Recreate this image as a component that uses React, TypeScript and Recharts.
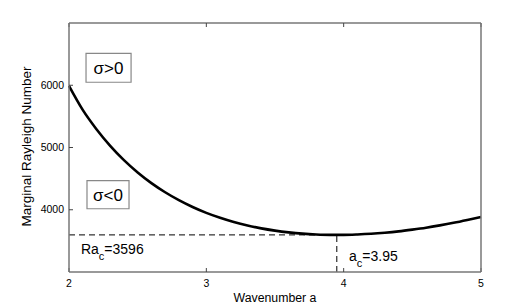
import { LineChart, Line, XAxis, YAxis, ReferenceLine, ReferenceArea, ReferenceDot, Label } from "recharts";

// values
const wavenumber = [2.0, 2.1, 2.2, 2.3, 2.4, 2.5, 2.6, 2.7, 2.8, 2.9, 3.0, 3.1, 3.2, 3.3, 3.4, 3.5, 3.6, 3.7, 3.8, 3.9, 4.0, 4.1, 4.2, 4.3, 4.4, 4.5, 4.6, 4.7, 4.8, 4.9, 5.0];
const rayleigh = [5990, 5604, 5294, 5027, 4797, 4599, 4428, 4281, 4154, 4044, 3950, 3871, 3803, 3747, 3701, 3665, 3637, 3616, 3603, 3597, 3597, 3603, 3614, 3631, 3653, 3681, 3712, 3749, 3790, 3836, 3885];
const xTicks = [2, 3, 4, 5];
const yTicks = [4000, 5000, 6000];
const raCritical = 3596;
const aCritical = 3.95;

const data = wavenumber.map((a, i) => ({ a, ra: rayleigh[i] }));

const FONT = "'Liberation Sans', Arial, Helvetica, sans-serif";
const AXIS = "#777";

const sigmaBox = (txt: string) => ({ viewBox }: any) => (
  <text x={viewBox.x + viewBox.width / 2} y={viewBox.y + viewBox.height / 2 + 6} textAnchor="middle"
    fontSize={17} fontFamily={FONT} fill="#000">{txt}</text>
);

const subLabel = (main: string, rest: string) => ({ viewBox }: any) => (
  <text x={viewBox.x + viewBox.width / 2} y={viewBox.y + viewBox.height / 2} fontSize={14} fontFamily={FONT} fill="#000">
    {main}
    <tspan fontSize={11} dy={6}>c</tspan>
    <tspan dy={-6}>{rest}</tspan>
  </text>
);

export default function App() {
  return (
    <div style={{ position: "absolute", left: 0, top: 0, background: "#fff" }}>
      <LineChart width={531} height={307} data={data} margin={{ top: 0, right: 0, bottom: 0, left: 0 }}
        style={{ fontFamily: FONT }}>
        <XAxis dataKey="a" type="number" domain={[2, 5]} ticks={xTicks} height={35}
          axisLine={{ stroke: AXIS, strokeWidth: 1.5 }} tickLine={{ stroke: "#444" }} tickSize={-4} tickMargin={12}
          tick={{ fill: "#000", fontSize: 10.5 }}>
          <Label content={({ viewBox }: any) => (
            <text x={viewBox.x + viewBox.width / 2} y={viewBox.y + 30} textAnchor="middle" fontSize={12.3} fontFamily={FONT} fill="#000">Wavenumber a</text>
          )} />
        </XAxis>
        <XAxis xAxisId="top" orientation="top" dataKey="a" type="number" domain={[2, 5]} ticks={xTicks} height={23}
          axisLine={{ stroke: AXIS, strokeWidth: 1.5 }} tickLine={{ stroke: "#444" }} tickSize={-4} tickFormatter={() => ""} />
        <YAxis type="number" domain={[3000, 7000]} ticks={yTicks} width={69}
          axisLine={{ stroke: AXIS, strokeWidth: 1.5 }} tickLine={{ stroke: "#444" }} tickSize={-4} tickMargin={9}
          tick={{ fill: "#000", fontSize: 10.5 }}>
          <Label content={({ viewBox }: any) => {
            const cx = 31, cy = viewBox.y + viewBox.height / 2 - 1;
            return (
              <text x={cx} y={cy} transform={`rotate(-90 ${cx} ${cy})`} textAnchor="middle" fontSize={13.5} fontFamily={FONT} fill="#000">
                Marginal Rayleigh Number
              </text>
            );
          }} />
        </YAxis>
        <YAxis yAxisId="right" orientation="right" type="number" domain={[3000, 7000]} ticks={yTicks} width={50}
          axisLine={{ stroke: AXIS, strokeWidth: 1.5 }} tickLine={{ stroke: "#444" }} tickSize={-4} tickFormatter={() => ""} />

        <ReferenceArea x1={2.124} x2={2.452} y1={6048} y2={6512} fill="#fff" fillOpacity={1} stroke="#888" strokeWidth={1.2}
          label={sigmaBox("σ>0")} />
        <ReferenceArea x1={2.131} x2={2.437} y1={4016} y2={4469} fill="#fff" fillOpacity={1} stroke="#888" strokeWidth={1.2}
          label={sigmaBox("σ<0")} />

        <ReferenceLine segment={[{ x: 2, y: raCritical }, { x: aCritical, y: raCritical }]} stroke="#000" strokeDasharray="6 4" />
        <ReferenceLine segment={[{ x: aCritical, y: 3000 }, { x: aCritical, y: raCritical }]} stroke="#000" strokeDasharray="6 4" />

        <ReferenceDot x={2.087} y={3288} r={0} fill="none" stroke="none" label={subLabel("Ra", `=${raCritical}`)} />
        <ReferenceDot x={4.039} y={3176} r={0} fill="none" stroke="none" label={subLabel("a", `=${aCritical}`)} />

        <Line type="monotone" dataKey="ra" stroke="#000" strokeWidth={2.6} dot={false} activeDot={false} isAnimationActive={false} />
      </LineChart>
    </div>
  );
}
